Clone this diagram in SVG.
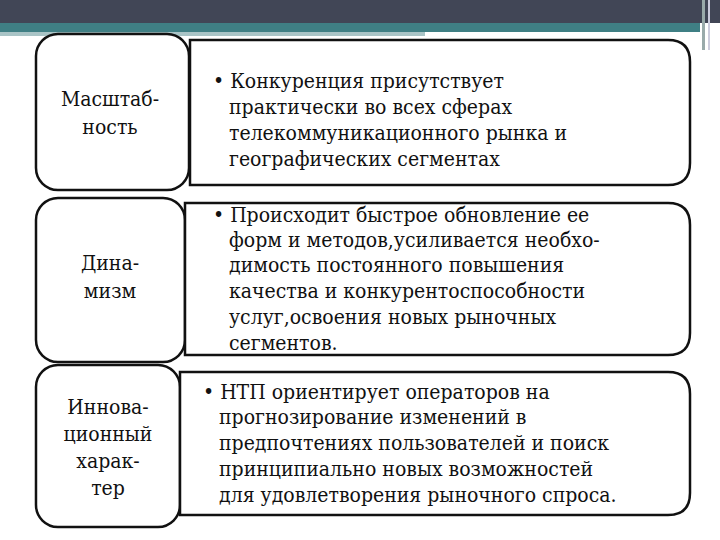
<svg xmlns="http://www.w3.org/2000/svg" width="720" height="540" viewBox="0 0 720 540">
<style>
.b{fill:#fff;stroke:#111;stroke-width:2.5}
text{font-family:'DejaVu Serif Condensed','DejaVu Serif','Noto Serif',serif;font-stretch:condensed;font-size:21px;fill:#111}
.c{text-anchor:middle}
</style>
<rect width="720" height="540" fill="#fff"/>
<rect x="0" y="0" width="720" height="23" fill="#414656"/>
<rect x="0" y="23" width="700" height="9" fill="#3f7f84"/>
<rect x="0" y="32" width="425" height="4" fill="#a9c4c6"/>
<rect x="702" y="0" width="3" height="50" fill="#9aa"/>
<rect x="708" y="0" width="2" height="50" fill="#ccd"/>
<g id="n1l"><rect class="b" x="36" y="34" width="153" height="156" rx="22"/><text class="c" x="110" y="106">Масштаб-</text><text class="c" x="110" y="134">ность</text></g>
<g id="n1r"><path class="b" d="M190 40H668Q690 40 690 62V163Q690 185 668 185H190Z"/>
<text x="213" y="88">• Конкуренция присутствует</text><text x="229" y="114">практически во всех сферах</text><text x="229" y="140">телекоммуникационного рынка и</text><text x="229" y="166">географических  сегментах</text></g>
<g id="n2l"><rect class="b" x="36" y="198" width="149" height="164" rx="22"/><text class="c" x="110" y="270">Дина-</text><text class="c" x="110" y="298">мизм</text></g>
<g id="n2r"><path class="b" d="M185 203H668Q690 203 690 225V333Q690 355 668 355H185Z"/>
<text x="213" y="222">• Происходит быстрое обновление ее</text><text x="229" y="247">форм и методов,усиливается необхо-</text><text x="229" y="272">димость постоянного повышения</text><text x="229" y="298">качества и конкурентоспособности</text><text x="229" y="324">услуг,освоения новых рыночных</text><text x="229" y="350">сегментов.</text></g>
<g id="n3l"><rect class="b" x="36" y="365" width="144" height="162" rx="22"/><text class="c" x="108" y="414">Иннова-</text><text class="c" x="108" y="441">ционный</text><text class="c" x="108" y="468">харак-</text><text class="c" x="108" y="495">тер</text></g>
<g id="n3r"><path class="b" d="M180 372H668Q690 372 690 394V493Q690 515 668 515H180Z"/>
<text x="203" y="399">• НТП ориентирует операторов на</text><text x="219" y="424">прогнозирование изменений в</text><text x="219" y="450">предпочтениях пользователей и поиск</text><text x="219" y="476">принципиально новых возможностей</text><text x="219" y="502">для удовлетворения рыночного спроса.</text></g>
<g id="connectors"/>
</svg>
